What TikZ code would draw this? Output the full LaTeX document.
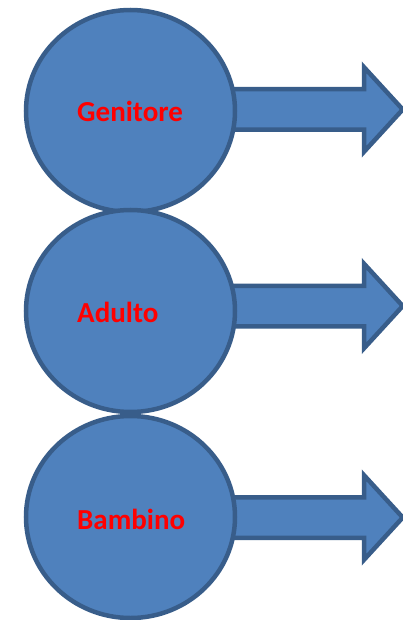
\documentclass[tikz,border=0pt]{standalone}
\usepackage{fontspec}
\newfontfamily\calibrifont{Carlito}
\usetikzlibrary{positioning,shapes.geometric,shapes.arrows,backgrounds}
\definecolor{egoblue}{HTML}{4F81BD}
\definecolor{egoline}{HTML}{385D8A}
\definecolor{egored}{HTML}{FF0000}
\begin{document}
\begin{tikzpicture}[
		x=1pt, y=-1pt,
		state/.style={ellipse, draw=egoline, fill=egoblue, line width=4.5pt, minimum width=209pt, minimum height=202pt, inner sep=0pt},
		statename/.style={anchor=base west, inner sep=0pt, text=egored, font=\calibrifont\bfseries\fontsize{29}{34}\selectfont},
		bigarrow/.style={single arrow, draw=egoline, fill=egoblue, line width=4.5pt, inner sep=0pt, text height=0pt, text depth=0pt, inner ysep=18pt, minimum width=0pt, single arrow head extend=22pt, single arrow tip angle=95, minimum height=270pt, anchor=tail}
		]
		\useasboundingbox (0,0) rectangle (403,620);
		% Ego states
		\node[state] (genitore) at (130.5,111) {};
		\node[state] (adulto) at (130.5,311) {};
		\node[state] (bambino) at (130.5,517) {};
		% Names
		\node[statename] (genitoretext) at (77,122) {Genitore};
		\node[statename] (adultotext) at (77,322.5) {Adulto};
		\node[statename] (bambinotext) at (77,529) {Bambino};
		% Arrows (behind the circles)
		\begin{scope}[on background layer]
			\node[bigarrow] (genitorearrow) at ([yshift=1.5pt]genitore.center) {};
			\node[bigarrow] (adultoarrow) at ([yshift=5pt]adulto.center) {};
			\node[bigarrow] (bambinoarrow) at ([yshift=-0.5pt]bambino.center) {};
		\end{scope}
	\end{tikzpicture}
\end{document}
